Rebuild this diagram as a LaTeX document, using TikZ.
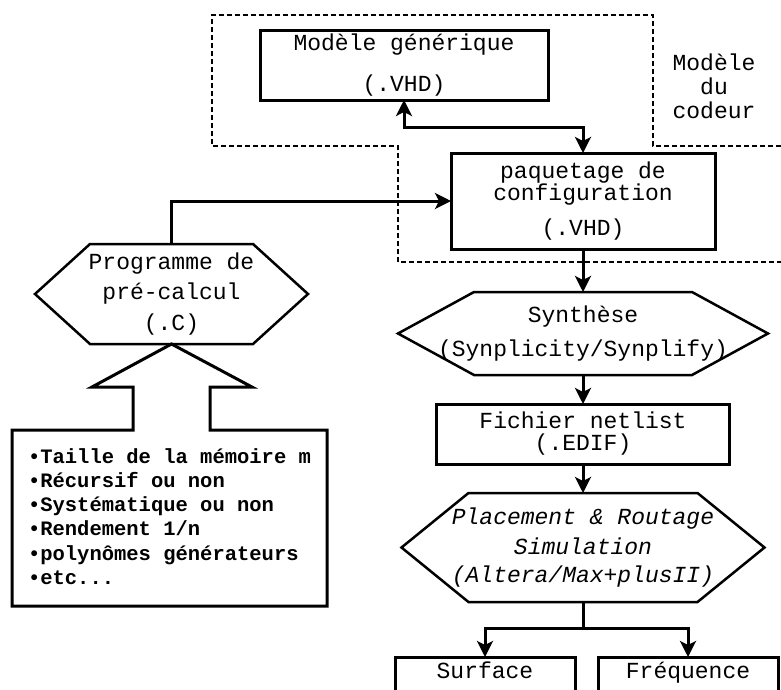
\documentclass[tikz,border=0pt]{standalone}
\usepackage{fontspec}
\newfontfamily\codefont{Liberation Mono}
\usetikzlibrary{arrows.meta}

% outline of a pointed hexagon around a named node
\newcommand{\hexframe}[2]{%
  \draw[hexline] (#1.west) -- ([xshift=#2pt]#1.north west) -- ([xshift=-#2pt]#1.north east)
    -- (#1.east) -- ([xshift=-#2pt]#1.south east) -- ([xshift=#2pt]#1.south west) -- cycle;}

\begin{document}
\begin{tikzpicture}[x=1pt,y=-1pt,
    txt/.style={font={\codefont\fontsize{23}{20}\selectfont},align=center,inner sep=0pt,outer sep=0pt},
    box/.style={txt,draw,line width=3pt},
    hexline/.style={line width=2.5pt,line join=miter},
    conn/.style={line width=3pt},
    zone/.style={line width=1.4pt,dash pattern=on 5pt off 3pt},
    >={Stealth[length=16pt,width=16pt,inset=4pt]}]
    \useasboundingbox (0,0) rectangle (781,689);
    \clip (0,0) rectangle (781,689);

    % coder model zone
    \draw[zone] (781,146) -- (653,146) -- (653,15) -- (212,15) -- (212,146)
        -- (398,146) -- (398,262) -- (781,262);
    \node[txt,font={\codefont\fontsize{23}{24}\selectfont}] (codeur) at (714,86) {Modèle\\du\\codeur};

    % boxes
    \node[box,minimum width=288,minimum height=70] (modele) at (404,65) {Modèle générique\\[18pt](.VHD)};
    \node[box,minimum width=264,minimum height=96] (paq) at (583,201) {paquetage de\\configuration\\[13pt](.VHD)};
    \node[box,minimum width=293,minimum height=60] (netlist) at (583,434) {Fichier netlist\\[2pt](.EDIF)};
    \node[box,minimum width=180,minimum height=50,anchor=north,text height=14pt,text depth=22pt] (surface) at (485,657) {Surface};
    \node[box,minimum width=180,minimum height=50,anchor=north,text height=14pt,text depth=22pt] (freq) at (688,657) {Fréquence};

    % hexagons
    \node[txt,minimum width=273,minimum height=100] (prog) at (171.5,294) {Programme de\\[8.5pt]pré-calcul\\[8.5pt](.C)};
    \hexframe{prog}{55}
    \node[txt,minimum width=370,minimum height=83] (synth) at (583,333.5) {Synthèse\\[12pt](Synplicity/Synplify)};
    \hexframe{synth}{76}
    \node[txt,minimum width=363,minimum height=109,font={\codefont\itshape\fontsize{23}{20}\selectfont}] (place) at (583,547.5)
        {Placement \& Routage\\[8pt]Simulation\\[8pt](Altera/Max+plusII)};
    \hexframe{place}{67}

    % parameters with its fat arrow
    \node[txt,align=left,font={\codefont\bfseries\fontsize{20.5}{24.2}\selectfont}] (param) at (169.5,516.5)
        {•Taille de la mémoire m\\•Récursif ou non\\•Systématique ou non\\•Rendement 1/n\\•polynômes générateurs\\•etc...};
    \draw[line width=3pt,line join=miter] (133,430) -- (133,387) -- (92,387) -- (prog.south) -- (252,387)
        -- (210,387) -- (210,430) -- (327,430) -- (327,606) -- (12,606) -- (12,430) -- cycle;

    % connectors
    \draw[conn,<->] (modele.south) -- ++(0,27) -| (paq.north);
    \draw[conn,->] (prog.north) |- (paq.west);
    \draw[conn,->] (paq.south) -- (synth.north);
    \draw[conn,->] (synth.south) -- (netlist.north);
    \draw[conn,->] (netlist.south) -- (place.north);
    \draw[conn] (place.south) -- ++(0,26) coordinate (split);
    \draw[conn,->] (split) -| (surface.north);
    \draw[conn,->] (split) -| (freq.north);
\end{tikzpicture}
\end{document}
